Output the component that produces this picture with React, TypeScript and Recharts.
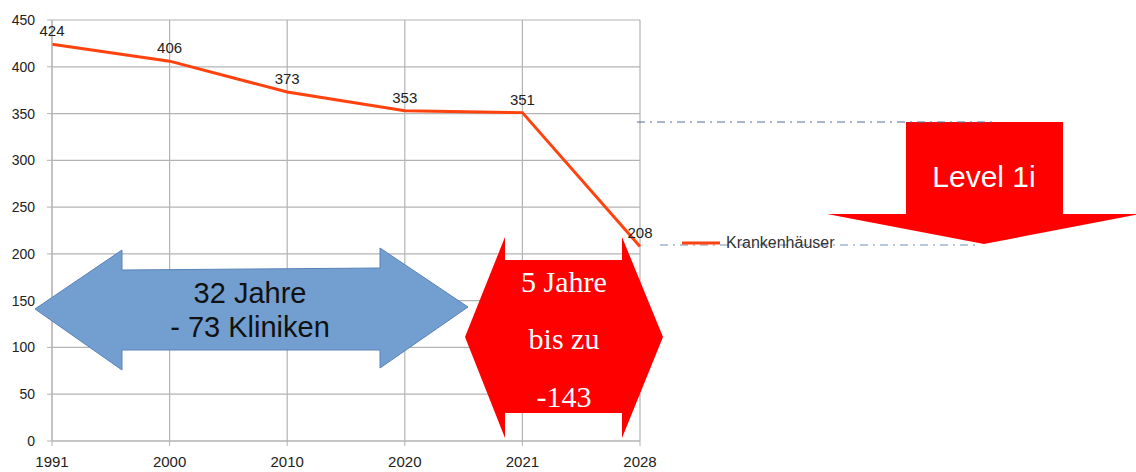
import React from 'react';
import { LineChart, Line, XAxis, YAxis, CartesianGrid, LabelList, Legend } from 'recharts';

const years = ['1991', '2000', '2010', '2020', '2021', '2028'];
const hospitals = [424, 406, 373, 353, 351, 208];
const yTicks = [0, 50, 100, 150, 200, 250, 300, 350, 400, 450];
const seriesName = 'Krankenhäuser';

const data = years.map((y, i) => ({ year: y, value: hospitals[i] }));

const LINE = '#ff420e';
const GRID = '#b3b3b3';
const TXT = '#222';
const SANS = '"Liberation Sans", Arial, sans-serif';
const SERIF = '"Liberation Serif", "Times New Roman", serif';

function LegendBox() {
  return (
    <div style={{ display: 'flex', alignItems: 'center', fontFamily: SANS, fontSize: 16, color: '#333' }}>
      <svg width={42} height={10} style={{ marginRight: 4 }}>
        <line x1={2} y1={5} x2={40} y2={5} stroke={LINE} strokeWidth={3} />
      </svg>
      <span>{seriesName}</span>
    </div>
  );
}

export default function App() {
  return (
    <div style={{ position: 'absolute', left: 0, top: 0, width: 1136, height: 472, overflow: 'hidden', background: '#fff' }}>
      {/* dashed guide under the legend */}
      <svg width={1136} height={472} style={{ position: 'absolute', left: 0, top: 0 }}>
        <line x1={660} y1={245} x2={976} y2={245} stroke="#6f8fc0" strokeWidth={1.2} strokeDasharray="8 5 2 5" />
      </svg>

      <div style={{ position: 'absolute', left: 0, top: 0 }}>
        <LineChart width={1136} height={472} data={data} margin={{ top: 20, right: 496, bottom: 0, left: 0 }}>
          <CartesianGrid stroke={GRID} strokeWidth={1.2} />
          <XAxis
            dataKey="year"
            height={31}
            stroke={GRID}
            tickSize={5}
            tickMargin={10}
            tick={{ fill: TXT, fontFamily: SANS, fontSize: 15 }}
            interval={0}
          />
          <YAxis
            width={52}
            domain={[0, 450]}
            ticks={yTicks}
            stroke={GRID}
            tickSize={5}
            tickMargin={12}
            tick={{ fill: TXT, fontFamily: SANS, fontSize: 14 }}
            interval={0}
          />
          <Line
            type="linear"
            dataKey="value"
            name={seriesName}
            stroke={LINE}
            strokeWidth={3}
            dot={false}
            isAnimationActive={false}
          >
            <LabelList dataKey="value" position="top" offset={8} fill={TXT} fontFamily={SANS} fontSize={15} />
          </Line>
          <Legend
            layout="horizontal"
            verticalAlign="middle"
            align="center"
            content={() => <LegendBox />}
            wrapperStyle={{ left: 680, top: 234, width: 220, height: 20 }}
          />
        </LineChart>
      </div>

      {/* annotations */}
      <svg width={1136} height={472} style={{ position: 'absolute', left: 0, top: 0, pointerEvents: 'none' }}>
        {/* blue double arrow */}
        <polygon
          points="35,309 122,250 122,270 380,268 380,248 468,307 380,368 380,350 122,350 122,370"
          fill="#729fcf"
          stroke="#5a82b8"
          strokeWidth={1}
        />
        <text x={250} y={303} textAnchor="middle" fontFamily={SANS} fontSize={29} fill="#111">32 Jahre</text>
        <text x={250} y={337} textAnchor="middle" fontFamily={SANS} fontSize={29} fill="#111">- 73 Kliniken</text>

        {/* red double arrow */}
        <polygon
          points="465,337 505,237 505,260 622,260 622,237 663,337 622,438 622,413 505,413 505,438"
          fill="#ff0000"
        />
        <text x={564} y={292} textAnchor="middle" fontFamily={SERIF} fontSize={30} fill="#fff">5 Jahre</text>
        <text x={564} y={349} textAnchor="middle" fontFamily={SERIF} fontSize={30} fill="#fff">bis zu</text>
        <text x={564} y={407} textAnchor="middle" fontFamily={SERIF} fontSize={30} fill="#fff">-143</text>

        {/* red down arrow */}
        <polygon
          points="906,122 1063,122 1063,214 1140,214 984,244 827,214 906,214"
          fill="#ff0000"
        />
        <text x={984} y={187} textAnchor="middle" fontFamily={SANS} fontSize={30} fill="#fff">Level 1i</text>

        {/* dash-dot guide at the top */}
        <line x1={637} y1={122} x2={997} y2={122} stroke="#4f6fa0" strokeWidth={1.2} strokeDasharray="8 5 2 5" />
      </svg>
    </div>
  );
}
